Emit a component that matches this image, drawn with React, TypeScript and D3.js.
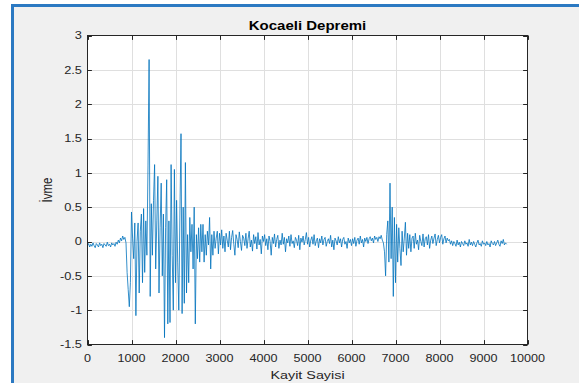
import React, { useEffect, useRef } from 'react';
import * as d3 from 'd3';

// Kayit araligi: her deger 25 kayitta bir okunmus ivme
const orneklemAraligi = 25;

// 0 - 800
const sessizBaslangic = [
  -0.06, -0.03, -0.08, -0.04, -0.07, -0.02, -0.06, -0.09, -0.03, -0.05, -0.08, -0.02, -0.06, -0.04, -0.09, -0.03,
  -0.05, -0.07, -0.01, -0.06, -0.04, -0.08, -0.02, -0.05, -0.03, -0.07, -0.01, -0.04, 0.02, -0.02, 0.05, 0.01, 0.08,
];

// 825 - 3000 (ana sarsinti)
const anaSarsinti = [
  0.03, 0.06, -0.02, -0.45, -0.7, -0.95, -0.6, 0.43, 0.05, -0.25, 0.27, -1.08, 0.0, 0.27, -0.75, 0.15,
  0.4, -0.6, 0.48, -0.45, 0.3, -0.2, 1.1, 2.65, -0.8, 0.55, -0.2, 0.6, 1.12, -0.4, 0.3, 0.95,
  -0.75, 0.2, 0.85, -0.5, 0.4, -1.4, 0.2, 0.9, -1.2, 0.3, -1.18, 1.12, -0.2, -1.0, 1.05, -0.6,
  0.6, -0.3, -1.0, 0.4, 1.57, -1.05, 0.5, -0.9, 1.15, -0.75, 0.1, -0.6, 0.35, -0.15, 0.25, -0.4,
  0.5, -1.2, 0.1, -0.25, 0.2, -0.3, 0.25, -0.15, 0.25, -0.3, 0.1, -0.2, 0.15, -0.05, 0.35, -0.4,
  0.1, -0.2, 0.15, -0.1, 0.05, 0.15, -0.18, 0.12,
];

// 3025 - 6700
const aradakiGurultu = [
  -0.05, 0.17, -0.1, 0.08, -0.15, 0.12, 0.02, -0.08, 0.15, -0.12, 0.06, 0.16, -0.04, -0.2, 0.1, 0.03,
  -0.09, 0.14, 0.0, -0.13, 0.09, 0.05, -0.06, 0.12, -0.1, 0.04, 0.15, -0.08, 0.02, -0.14, 0.1, -0.03,
  0.07, -0.11, 0.13, -0.05, 0.03, -0.18, 0.08, 0.0,
  0.1, -0.06, 0.04, -0.12, 0.08, 0.0, -0.2, 0.06, -0.03, 0.11, -0.08, 0.03, 0.09, -0.1, 0.02, -0.05,
  0.12, -0.04, 0.06, -0.15, 0.04, -0.02, 0.08, -0.07, 0.1, -0.03, 0.01, -0.09, 0.06, 0.02, -0.06, 0.09,
  -0.12, 0.05, -0.01, 0.08, -0.05, 0.03, 0.13, -0.04,
  0.06, -0.08, 0.02, 0.07, -0.04, 0.1, -0.06, 0.01, 0.05, -0.09, 0.04, -0.02, 0.08, -0.05, 0.03, 0.06,
  -0.07, 0.0, 0.04, -0.03, 0.09, -0.08, 0.02, -0.12, 0.05, 0.01, -0.05, 0.07, -0.02, 0.04, -0.08, 0.03,
  0.06, -0.04, 0.0, -0.1, 0.05, -0.02, 0.03, -0.06,
  0.04, -0.03, 0.06, -0.07, 0.02, 0.05, -0.04, 0.08, -0.02, 0.03, -0.08, 0.05, 0.0, 0.06, -0.03, 0.04,
  0.07, 0.01, 0.05, -0.02, 0.08, 0.03, 0.06, 0.0, 0.07, 0.04, 0.09, 0.02,
];

// 6725 - 7300 (ikinci sarsinti)
const ikinciSarsinti = [
  -0.02, -0.15, -0.5, 0.1, 0.3, -0.3, 0.85, -0.25, 0.5, -0.8, 0.35, -0.6, 0.25, -0.3, 0.2, -0.1,
  -0.35, 0.15, -0.15, 0.05, 0.28, -0.2, 0.12, -0.1,
];

// 7325 - 9525
const sonumlenme = [
  0.1, -0.15, 0.05, 0.08, -0.1, 0.12, -0.04, 0.02, -0.12, 0.09, 0.0, -0.06, 0.11, -0.08, 0.04, 0.07,
  -0.05, 0.1, -0.1, 0.02, 0.08, -0.03, 0.05, 0.11, -0.06, 0.03, 0.09, -0.02, 0.06, 0.1, -0.04, 0.04,
  0.08, -0.02, 0.05, 0.01,
  0.03, -0.04, 0.01, -0.06, 0.0, -0.03, -0.07, 0.02, -0.05, -0.01, -0.08, 0.0, -0.03, -0.06, 0.01, -0.04,
  -0.02, -0.07, 0.03, -0.05, -0.01, -0.06, 0.0, -0.04, -0.08, -0.02, 0.02, -0.05, -0.03, -0.07, 0.01, -0.04,
  -0.02, -0.06, 0.0, -0.05, -0.03, -0.08, 0.01, -0.03, -0.05, 0.0, -0.06, -0.02, 0.02, -0.04, -0.07, 0.01,
  -0.03, 0.03, -0.05, -0.02, -0.04,
];

const xTicks = [0, 1000, 2000, 3000, 4000, 5000, 6000, 7000, 8000, 9000, 10000];
const yTicks = [-1.5, -1, -0.5, 0, 0.5, 1, 1.5, 2, 2.5, 3];

const FONT = '"Liberation Sans", Arial, Helvetica, sans-serif';

export default function App() {
  const svgRef = useRef<SVGSVGElement>(null);

  useEffect(() => {
    const svg = d3.select(svgRef.current);
    svg.selectAll('*').remove();

    const W = 579;
    const H = 383;
    const left = 87.5, right = 527.5, top = 35.5, bottom = 344.5;

    // the screenshot is a bit wide, so text is stretched sideways
    const addText = (g: any, x: number, y: number, str: string, size: number, anchor: string, sx: number, extra = '') =>
      g.append('text')
        .attr('transform', `translate(${x},${y}) ${extra} scale(${sx},1)`)
        .attr('text-anchor', anchor)
        .attr('font-family', FONT)
        .attr('font-size', `${size}px`)
        .attr('fill', '#262626')
        .text(str);

    // figure background and window frame
    svg.append('rect').attr('width', W).attr('height', H).attr('fill', '#ffffff');
    svg.append('rect').attr('x', 14).attr('y', 7).attr('width', W - 14).attr('height', H - 7).attr('fill', '#f0f0f0');
    svg.append('rect').attr('x', 11).attr('y', 4).attr('width', W - 11).attr('height', 3).attr('fill', '#2b79c2');
    svg.append('rect').attr('x', 11).attr('y', 4).attr('width', 3).attr('height', H - 4).attr('fill', '#2b79c2');

    const x = d3.scaleLinear().domain([0, 10000]).range([left, right]);
    const y = d3.scaleLinear().domain([-1.5, 3]).range([bottom, top]);

    // axes area
    svg.append('rect')
      .attr('x', left).attr('y', top)
      .attr('width', right - left).attr('height', bottom - top)
      .attr('fill', '#ffffff');

    // grid
    const grid = svg.append('g').attr('stroke', '#dfdfdf').attr('stroke-width', 1);
    grid.selectAll('.gx').data(xTicks.slice(1, -1)).enter().append('line')
      .attr('x1', d => Math.round(x(d)) + 0.5).attr('x2', d => Math.round(x(d)) + 0.5)
      .attr('y1', top).attr('y2', bottom);
    grid.selectAll('.gy').data(yTicks.slice(1, -1)).enter().append('line')
      .attr('y1', d => Math.round(y(d)) + 0.5).attr('y2', d => Math.round(y(d)) + 0.5)
      .attr('x1', left).attr('x2', right);

    // signal
    const ivme = [...sessizBaslangic, ...anaSarsinti, ...aradakiGurultu, ...ikinciSarsinti, ...sonumlenme];
    const line = d3.line<number>()
      .x((_, i) => x(i * orneklemAraligi))
      .y(d => y(d));
    svg.append('path')
      .datum(ivme)
      .attr('d', line)
      .attr('fill', 'none')
      .attr('stroke', '#0072bd')
      .attr('stroke-width', 0.8)
      .attr('stroke-linejoin', 'round');

    // box and ticks (inside, all four sides)
    const axisColor = '#262626';
    const tickLen = 4.4;
    const ticks = svg.append('g').attr('stroke', axisColor).attr('stroke-width', 1);
    xTicks.forEach(t => {
      const px = Math.round(x(t)) + 0.5;
      ticks.append('line').attr('x1', px).attr('x2', px).attr('y1', bottom).attr('y2', bottom - tickLen);
      ticks.append('line').attr('x1', px).attr('x2', px).attr('y1', top).attr('y2', top + tickLen);
    });
    yTicks.forEach(t => {
      const py = Math.round(y(t)) + 0.5;
      ticks.append('line').attr('y1', py).attr('y2', py).attr('x1', left).attr('x2', left + tickLen);
      ticks.append('line').attr('y1', py).attr('y2', py).attr('x1', right).attr('x2', right - tickLen);
    });
    svg.append('rect')
      .attr('x', left).attr('y', top)
      .attr('width', right - left).attr('height', bottom - top)
      .attr('fill', 'none').attr('stroke', axisColor).attr('stroke-width', 1);

    // tick labels
    const labels = svg.append('g');
    xTicks.forEach(t => addText(labels, x(t), 361.5, String(t), 10.5, 'middle', 1.2));
    yTicks.forEach(t => addText(labels, 82, y(t) + 3.8, String(t), 10.5, 'end', 1.22));

    // title and axis labels
    addText(svg, (left + right) / 2, 29.5, 'Kocaeli Depremi', 12, 'middle', 1.25)
      .attr('font-weight', 'bold')
      .attr('fill', '#000000');
    addText(svg, (left + right) / 2, 378.5, 'Kayit Sayisi', 11.5, 'middle', 1.25);
    // rotated: stretch applies across the glyphs, so scale the y direction after rotating
    svg.append('text')
      .attr('transform', `translate(52, ${(top + bottom) / 2}) rotate(-90) scale(1,1.2)`)
      .attr('text-anchor', 'middle')
      .attr('font-family', FONT)
      .attr('font-size', '11.5px')
      .attr('fill', axisColor)
      .text('İvme');
  }, []);

  return (
    <div style={{ position: 'absolute', left: 0, top: 0, width: 579, height: 383 }}>
      <svg ref={svgRef} width={579} height={383} style={{ display: 'block' }}></svg>
    </div>
  );
}
